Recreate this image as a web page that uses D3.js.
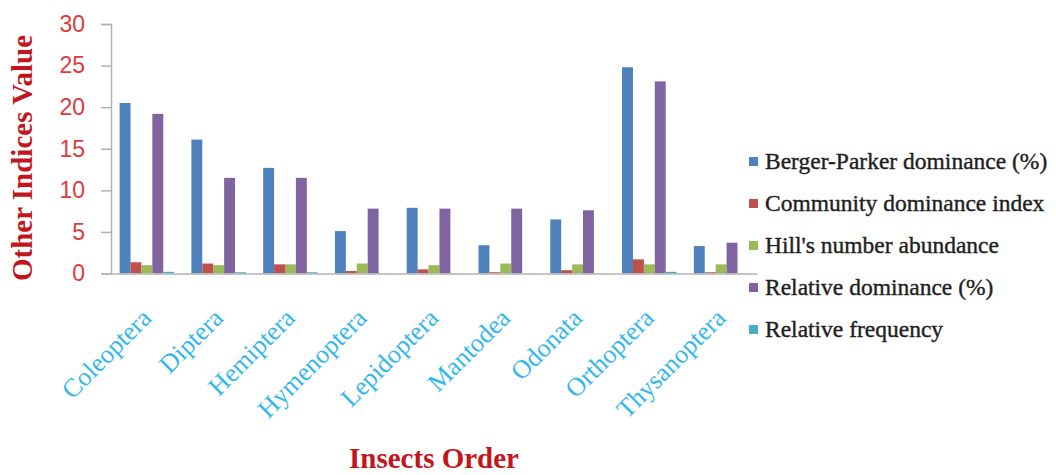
<!DOCTYPE html>
<html>
<head>
<meta charset="utf-8">
<script src="https://cdn.jsdelivr.net/npm/d3@7"></script>
<style>
    body { margin: 0; background: #fff; }
    svg { display: block; }
</style>
</head>
<body>
<div id="chart"></div>
<script>
// insect orders on the x axis
const orders = ["Coleoptera", "Diptera", "Hemiptera", "Hymenoptera", "Lepidoptera",
    "Mantodea", "Odonata", "Orthoptera", "Thysanoptera"];

const seriesNames = ["Berger-Parker dominance (%)", "Community dominance index",
    "Hill's number abundance", "Relative dominance (%)", "Relative frequency"];

// values
const bergerParker = [20.5, 16.1, 12.7, 5.1, 7.9, 3.4, 6.5, 24.8, 3.3];
const communityDominance = [1.35, 1.2, 1.1, 0.3, 0.5, 0.15, 0.4, 1.7, 0.15];
const hillsNumber = [1.0, 1.0, 1.1, 1.2, 1.0, 1.2, 1.1, 1.1, 1.1];
const relativeDominance = [19.2, 11.5, 11.5, 7.8, 7.8, 7.8, 7.6, 23.1, 3.7];
const relativeFrequency = [0.2, 0.15, 0.15, 0.02, 0.02, 0.02, 0.02, 0.2, 0.02];

const yTicks = [0, 5, 10, 15, 20, 25, 30];

const colors = ["#4f81bd", "#c0504d", "#9bbb59", "#8064a2", "#4bacc6"];

const allSeries = [bergerParker, communityDominance, hillsNumber, relativeDominance, relativeFrequency];

const width = 1056, height = 475;
const plot = { left: 111, right: 757, top: 24, bottom: 273.5 };
const serif = "'Liberation Serif', 'Times New Roman', serif";

const svg = d3.select("#chart").append("svg")
    .attr("width", width)
    .attr("height", height);

// scales
const x0 = d3.scaleBand()
    .domain(orders)
    .range([plot.left, plot.right])
    .paddingInner(0.24)
    .paddingOuter(0.12);

const x1 = d3.scaleBand()
    .domain(seriesNames)
    .range([0, x0.bandwidth()]);

const y = d3.scaleLinear()
    .domain([0, 30])
    .range([plot.bottom, plot.top]);

// bars
const table = orders.map((o, i) => ({
    order: o,
    values: seriesNames.map((s, j) => ({ key: s, value: allSeries[j][i], color: colors[j] }))
}));

svg.append("g")
    .selectAll("g")
    .data(table)
    .join("g")
    .attr("transform", d => "translate(" + x0(d.order) + ",0)")
    .selectAll("rect")
    .data(d => d.values)
    .join("rect")
    .attr("x", d => x1(d.key))
    .attr("width", x1.bandwidth())
    .attr("y", d => y(d.value))
    .attr("height", d => plot.bottom - y(d.value))
    .attr("fill", d => d.color);

// y axis
svg.append("g")
    .attr("transform", "translate(" + plot.left + ",0)")
    .call(d3.axisLeft(y).tickValues(yTicks).tickSize(10).tickPadding(16))
    .call(g => g.selectAll("line").attr("stroke", "#b3b3b3").attr("stroke-width", 1.5))
    .call(g => g.select(".domain").attr("stroke", "#b3b3b3").attr("stroke-width", 1.5))
    .call(g => g.selectAll("text")
        .attr("fill", "#e0393e")
        .style("font-family", "'Liberation Sans', Arial, sans-serif")
        .style("font-size", "23px"));

// x axis, no ticks
svg.append("g")
    .attr("transform", "translate(0," + plot.bottom + ")")
    .call(d3.axisBottom(x0).tickSize(0).tickFormat(""))
    .call(g => g.select(".domain").attr("stroke", "#b3b3b3").attr("stroke-width", 1.5));

// rotated category labels
svg.append("g")
    .selectAll("text")
    .data(orders)
    .join("text")
    .attr("text-anchor", "end")
    .attr("transform", d => "translate(" + (x0(d) + x0.bandwidth() / 2 + 6) + "," + (plot.bottom + 46) + ") rotate(-45)")
    .attr("fill", "#33b7ee")
    .style("font-family", serif)
    .style("font-size", "26px")
    .text(d => d);

// axis titles
svg.append("text")
    .attr("transform", "translate(32," + 158 + ") rotate(-90)")
    .attr("text-anchor", "middle")
    .attr("fill", "#c3161c")
    .attr("font-weight", "bold")
    .style("font-family", serif)
    .style("font-size", "29px")
    .text("Other Indices Value");

svg.append("text")
    .attr("x", 434)
    .attr("y", 468)
    .attr("text-anchor", "middle")
    .attr("fill", "#c3161c")
    .attr("font-weight", "bold")
    .style("font-family", serif)
    .style("font-size", "29px")
    .text("Insects Order");

// legend
const legend = svg.append("g")
    .selectAll("g")
    .data(seriesNames)
    .join("g")
    .attr("transform", (d, i) => "translate(749," + (162 + i * 42) + ")");

legend.append("rect")
    .attr("x", 0)
    .attr("y", -5)
    .attr("width", 9)
    .attr("height", 9)
    .attr("fill", (d, i) => colors[i]);

legend.append("text")
    .attr("x", 16)
    .attr("y", 7)
    .attr("fill", "#1f1f1f")
    .attr("stroke", "#1f1f1f")
    .attr("stroke-width", 0.4)
    .style("font-family", serif)
    .style("font-size", "23.5px")
    .text(d => d);
</script>
</body>
</html>
